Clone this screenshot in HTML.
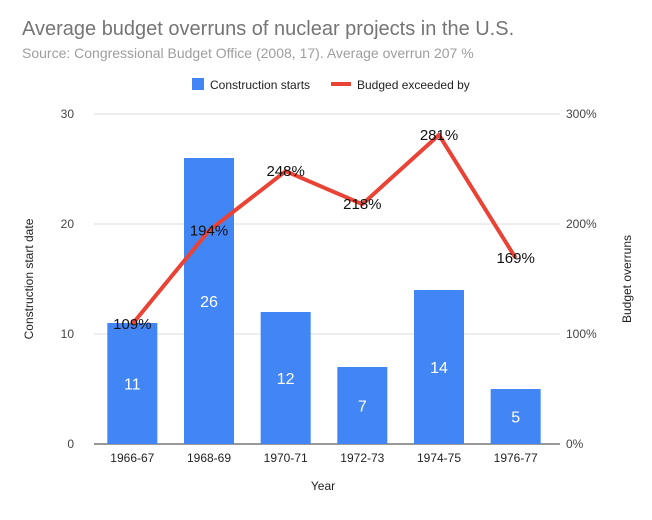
<!DOCTYPE html>
<html><head><meta charset="utf-8"><style>
body{margin:0;background:#fff;font-family:"Liberation Sans",Arial,sans-serif;}
</style></head><body>
<svg id="chart" width="652" height="515" xmlns="http://www.w3.org/2000/svg">
<rect width="652" height="515" fill="#fff"/>
<text x="22" y="35" font-size="20" fill="#757575">Average budget overruns of nuclear projects in the U.S.</text>
<text x="22" y="58" font-size="14" fill="#9e9e9e">Source: Congressional Budget Office (2008, 17). Average overrun 207 %</text>
<g>
<rect x="192" y="78" width="12" height="12" fill="#4285f4"/>
<text x="210" y="89" font-size="12" fill="#222">Construction starts</text>
<rect x="331" y="82" width="20" height="4" fill="#ea4335"/>
<text x="357" y="89" font-size="12" fill="#222">Budged exceeded by</text>
</g>
<g id="grid"></g><g id="bars"></g><g id="line"></g><g id="labels"></g>
<text transform="translate(33,279) rotate(-90)" text-anchor="middle" font-size="12" fill="#222">Construction start date</text>
<text transform="translate(631,279) rotate(-90)" text-anchor="middle" font-size="12" fill="#222">Budget overruns</text>
<text x="323" y="490" text-anchor="middle" font-size="12" fill="#222">Year</text>
</svg>
<script>
const categories=["1966-67","1968-69","1970-71","1972-73","1974-75","1976-77"];
const starts=[11,26,12,7,14,5];
const overruns=[109,194,248,218,281,169];
const leftTicks=[0,10,20,30];
const rightTicks=["0%","100%","200%","300%"];
const NS="http://www.w3.org/2000/svg";
const x0=94,x1=554,yb=444,yt=114;
const band=(x1-x0)/categories.length;
const xc=i=>x0+band*(i+0.5);
const yL=v=>yb-(v/30)*(yb-yt);
const yR=v=>yb-(v/300)*(yb-yt);
function mk(t,a,p){const e=document.createElementNS(NS,t);for(const k in a)e.setAttribute(k,a[k]);document.getElementById(p).appendChild(e);return e;}
leftTicks.forEach((v,i)=>{
 const l=mk("line",{x1:x0,x2:x1+6,y1:yL(v),y2:yL(v),stroke:i==0?"#333":"#ddd","stroke-width":1},"grid");
 
 
 const t=mk("text",{x:x0-20,y:yL(v)+4,"text-anchor":"end","font-size":12,fill:"#444"},"grid");t.textContent=v;
 
 
 const r=mk("text",{x:x1+12,y:yL(v)+4,"font-size":12,fill:"#444"},"grid");r.textContent=rightTicks[i];
 
 
});
categories.forEach((c,i)=>{
 const bw=50;
 const b=mk("rect",{x:xc(i)-bw/2,y:yL(starts[i]),width:bw,height:yb-yL(starts[i]),fill:"#4285f4"},"bars");
 
 
 const v=mk("text",{x:xc(i),y:(yL(starts[i])+yb)/2+6,"text-anchor":"middle","font-size":16,fill:"#fff"},"labels");v.textContent=starts[i];
 
 
 const t=mk("text",{x:xc(i),y:yb+18,"text-anchor":"middle","font-size":12,fill:"#222"},"labels");t.textContent=c;
 
 
});
const pts=overruns.map((v,i)=>xc(i)+","+yR(v)).join(" ");
const pl=mk("polyline",{points:pts,fill:"none",stroke:"#ea4335","stroke-width":4,"stroke-linejoin":"round"},"line");


overruns.forEach((v,i)=>{
 const t=mk("text",{x:xc(i),y:yR(v)+5,"text-anchor":"middle","font-size":15,fill:"#111"},"labels");t.textContent=v+"%";
 
 
});
</script>
</body></html>
